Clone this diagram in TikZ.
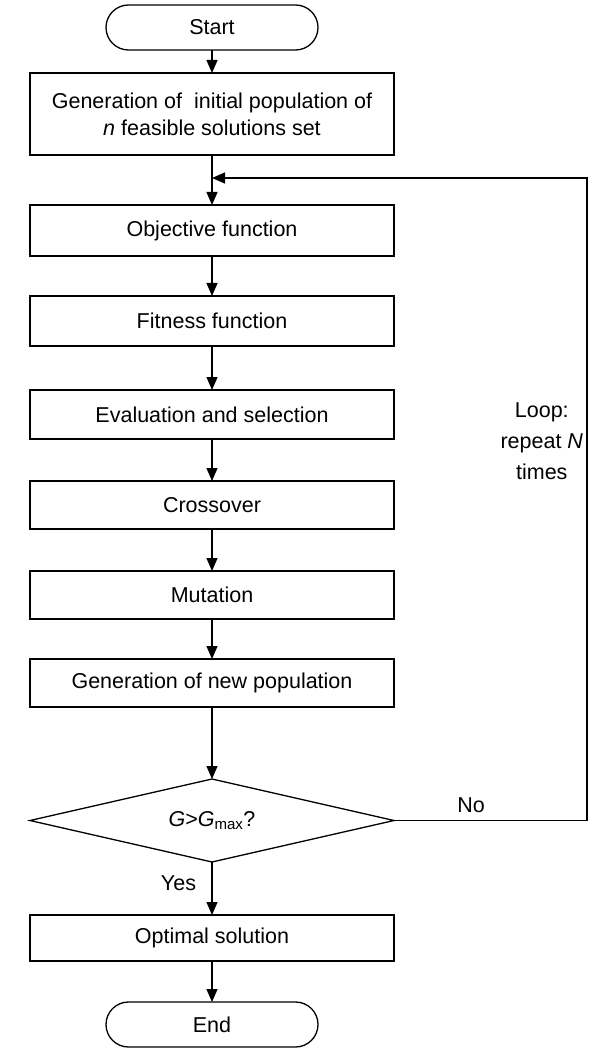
\documentclass[tikz,border=0pt]{standalone}
\usepackage{fontspec}
\setmainfont{Liberation Sans}
\usetikzlibrary{positioning,shapes.geometric,arrows.meta}

\begin{document}
\begin{tikzpicture}[node distance = 42pt, font=\fontsize{21.5}{27}\selectfont, >={Triangle[length=13pt,width=11pt]}, line width=1.3pt]
    \tikzstyle{terminal} = [draw, rounded corners=22.5pt, minimum width=212pt, minimum height=45pt, inner sep=0pt, outer sep=0pt]
    \tikzstyle{process} = [draw, minimum width=364pt, minimum height=48pt, inner sep=0pt, outer sep=0pt, align=center]
    \tikzstyle{decision} = [draw, diamond, aspect=4.4, minimum width=364pt, minimum height=83pt, inner sep=0pt, outer sep=0pt]
    \useasboundingbox (0,0) rectangle (595pt,-1048pt);

    \node [terminal] (S0) at (212pt,-27.5pt) {Start};
    \node [process, below = 23pt of S0, minimum height=82pt] (S1) {Generation of~ initial population of\\\textit{n} feasible solutions set};
    \node [process, below = 50pt of S1, minimum height=51pt] (S2) {Objective function};
    \node [process, below = 40pt of S2, minimum height=50pt] (S3) {Fitness function};
    \node [process, below = 44pt of S3, minimum height=49pt] (S4) {Evaluation and selection};
    \node [process, below = of S4] (S5) {Crossover};
    \node [process, below = of S5] (S6) {Mutation};
    \node [process, below = 40pt of S6] (S7) {Generation of new population};
    \node [decision, below = 72pt of S7] (S8) {\textit{G}>\textit{G}\textsubscript{max}?};
    \node [process, below = 53pt of S8, minimum height=46pt] (S9) {Optimal solution};
    \node [terminal, below = 41pt of S9] (S10) {End};

    % loop back point and corner
    \path (S1.south) -- (S2.north) coordinate[pos=0.46] (J);
    \coordinate [right = 193pt of S8.east] (R);

    \draw [->] (S0) -- (S1);
    \draw [->] (S1) -- (S2);
    \draw [->] (S2) -- (S3);
    \draw [->] (S3) -- (S4);
    \draw [->] (S4) -- (S5);
    \draw [->] (S5) -- (S6);
    \draw [->] (S6) -- (S7);
    \draw [->] (S7) -- (S8);
    \draw [->] (S8) -- node[left=12pt, pos=0.4] {Yes} (S9);
    \draw [->] (S9) -- (S10);
    \draw [->] (S8.east) -- node[above=4pt, pos=0.4] {No} (R)
        -- node[left, pos=0.59, align=center, font=\fontsize{21.5}{31}\selectfont] {Loop:\\repeat \textit{N}\\times} (R |- J) -- (J);
\end{tikzpicture}
\end{document}
